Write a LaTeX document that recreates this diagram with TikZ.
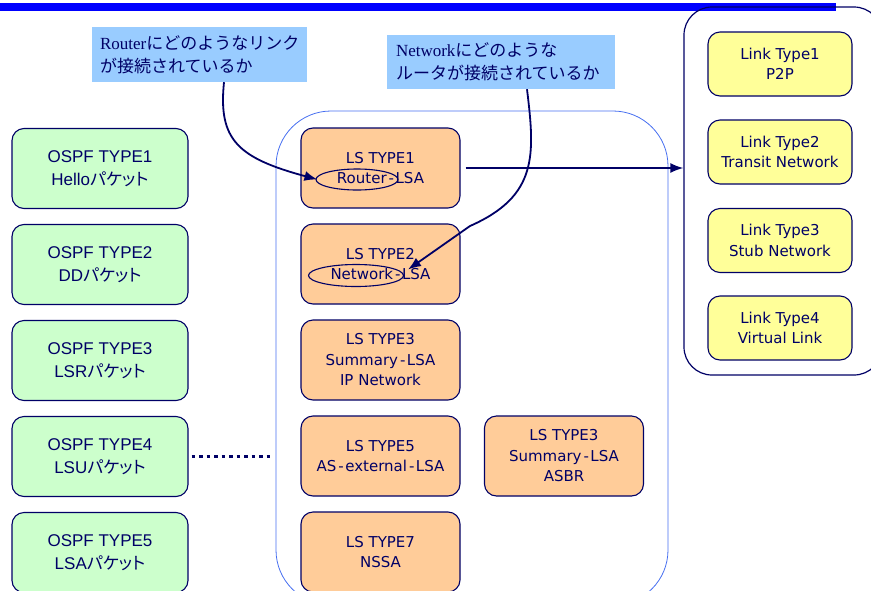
\documentclass[tikz,border=0pt]{standalone}
\usepackage{fontspec}
\setmainfont{Liberation Sans}
\newfontfamily\cjk{Noto Sans CJK JP}
\newfontfamily\cjkprop{Noto Sans CJK JP}[RawFeature=+palt]
\newfontfamily\latserif{Liberation Serif}
\newfontfamily\boxsans{DejaVu Sans}
\usetikzlibrary{arrows.meta,shapes.geometric}
\definecolor{ink}{RGB}{0,0,102}
\definecolor{barblue}{RGB}{0,0,255}
\definecolor{frameblue}{RGB}{70,110,240}
\definecolor{pktgreen}{RGB}{204,255,204}
\definecolor{lsaorange}{RGB}{255,204,153}
\definecolor{lnkyellow}{RGB}{255,255,153}
\definecolor{noteblue}{RGB}{153,204,255}
\newcommand\spdash{\kern2pt-\kern1.5pt}
\tikzset{
  box/.style={draw=ink, line width=1.1pt, rounded corners=12pt, align=center,
    text=ink, font=\boxsans\fontsize{15}{20.5}\selectfont, inner sep=0pt},
  pkt/.style={box, fill=pktgreen, minimum width=176pt, minimum height=80pt,
    font=\fontsize{17}{23}\selectfont},
  lsa/.style={box, fill=lsaorange, minimum width=159pt, minimum height=80pt},
  lnk/.style={box, fill=lnkyellow, minimum width=144pt, minimum height=64pt},
  note/.style={fill=noteblue, text=ink, align=left, inner xsep=8pt, inner ysep=0pt,
    font=\fontsize{17}{23}\selectfont},
  ring/.style={ellipse, draw=ink, line width=1.1pt, inner sep=0pt},
  link/.style={draw=ink, line width=1.8pt, -{Latex[length=13pt,width=10pt]}},
  group/.style={rounded corners=#1, inner sep=0pt},
}
\begin{document}
\begin{tikzpicture}[x=1pt,y=-1pt]
\useasboundingbox (0,0) rectangle (871,590);
\begin{scope}
\clip (0,0) rectangle (871,590);
% title bar
\fill[barblue] (0,3) rectangle (836,11);
% group frames
\node[group=28pt, draw=ink, line width=1.2pt, minimum width=198pt, minimum height=368pt] (lt) at (783,191) {};
\node[group=55pt, draw=frameblue, line width=0.8pt, minimum width=392pt, minimum height=494pt] (ls) at (472,358) {};
% OSPF packet types
\node[pkt] (p1) at (100,168.5) {OSPF TYPE1\\Hello{\cjkprop パケット}};
\node[pkt] (p2) at (100,264.5) {OSPF TYPE2\\DD{\cjkprop パケット}};
\node[pkt] (p3) at (100,360.5) {OSPF TYPE3\\LSR{\cjkprop パケット}};
\node[pkt] (p4) at (100,456.5) {OSPF TYPE4\\LSU{\cjkprop パケット}};
\node[pkt] (p5) at (100,552.5) {OSPF TYPE5\\LSA{\cjkprop パケット}};
% LSA types
\node[lsa] (t1) at (380.5,168) {LS TYPE1\\Router\spdash LSA};
\node[lsa] (t2) at (380.5,264) {LS TYPE2\\Network\spdash LSA};
\node[lsa] (t3) at (380.5,360) {LS TYPE3\\Summary\spdash LSA\\IP Network};
\node[lsa] (t5) at (380.5,456) {LS TYPE5\\AS\spdash external\spdash LSA};
\node[lsa] (t3b) at (564,456) {LS TYPE3\\Summary\spdash LSA\\ASBR};
\node[lsa] (t7) at (380.5,552) {LS TYPE7\\NSSA};
% link types
\node[lnk] (l1) at (780,64) {Link Type1\\P2P};
\node[lnk] (l2) at (780,152) {Link Type2\\Transit Network};
\node[lnk] (l3) at (780,240.5) {Link Type3\\Stub Network};
\node[lnk] (l4) at (780,328) {Link Type4\\Virtual Link};
% highlighted LSA names
\node[ring, minimum width=82pt, minimum height=21pt] (rl) at (357,179.5) {};
\node[ring, minimum width=95pt, minimum height=22pt] (nl) at (356,275.5) {};
% notes
\node[note, text width=199pt, minimum height=55pt] (c1) at (199.5,54.5)
  {{\latserif Router}{\cjk にどのようなリンク}\\{\cjk が接続されているか}};
\node[note, text width=210pt, inner xsep=9pt, minimum height=54pt] (c2) at (501,62)
  {{\latserif Network}{\cjk にどのような}\\{\cjk ルータが接続されているか}};
% connectors
\coordinate (nt) at ([shift={(4,-6)}]nl.east);
\draw[link] ([xshift=24.5pt]c1.south) .. controls (218,140) and (238,158) .. ([xshift=2pt]rl.west);
\draw[link] ([xshift=26pt]c2.south) .. controls (535,155) and (538,196) .. (470,226) -- (nt);
\draw[link] ([xshift=5pt]t1.east) -- (t1.east -| lt.west);
\draw[ink, line width=3pt, dash pattern=on 3.5pt off 4pt] ([xshift=3pt]p4.east) -- ([xshift=-4pt]p4.east -| ls.west);
\end{scope}
\end{tikzpicture}
\end{document}
